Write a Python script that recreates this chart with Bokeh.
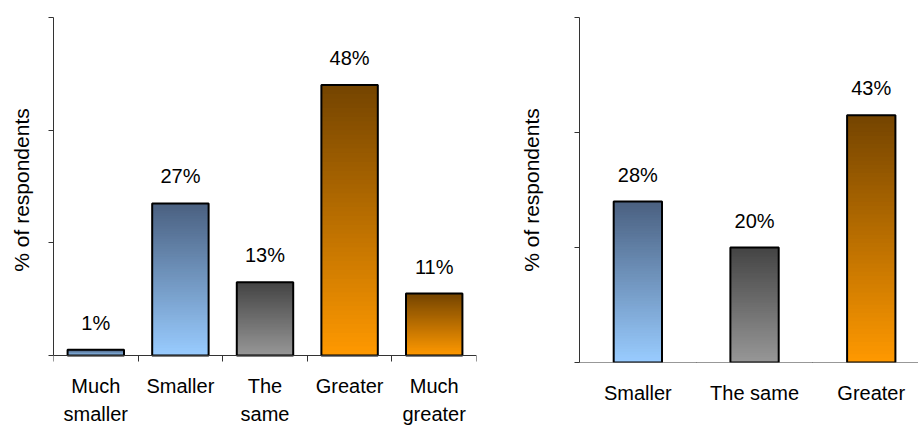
from bokeh.plotting import figure
from bokeh.layouts import row
from bokeh.models import Range1d, FixedTicker, ColumnDataSource, LinearAxis
from bokeh.embed import file_html
from bokeh.resources import INLINE
from bokeh.core.properties import value

# ---- data ----
left_categories = ["Much\nsmaller", "Smaller", "The\nsame", "Greater", "Much\ngreater"]
left_values = [1, 27, 13, 48, 11]
left_groups = ["blue", "blue", "gray", "orange", "orange"]

right_categories = ["Smaller", "The same", "Greater"]
right_values = [28, 20, 43]
right_groups = ["blue", "gray", "orange"]

y_ticks = [0, 20, 40, 60]

# gradient (bottom colour, top colour) per colour group
GRAD = {
    "blue": ("#99ccff", "#4a6080"),
    "gray": ("#979797", "#444444"),
    "orange": ("#ff9900", "#744400"),
}

FONT = "Liberation Sans"
AXIS_COLOR = "#333333"
N_SLICES = 60

H = 428
FRAME_TOP = 17
FRAME_BOTTOM = 362   # shared frame bottom of both panels


def hex2rgb(h):
    h = h.lstrip("#")
    return tuple(int(h[i:i + 2], 16) for i in (0, 2, 4))


def lerp(c0, c1, t):
    a, b = hex2rgb(c0), hex2rgb(c1)
    return "#%02x%02x%02x" % tuple(round(a[i] + (b[i] - a[i]) * t) for i in range(3))


def make_panel(categories, values, groups, width, border_left, border_right,
               zero_px, bar_width, x_end, label_standoff, cat_standoff):
    n = len(categories)
    centers = [i + 0.5 for i in range(n)]
    bounds = list(range(n + 1))

    # y range: 60 at frame top, 0 at zero_px
    ppu = (zero_px - FRAME_TOP) / 60.0
    y_lo = -(FRAME_BOTTOM - zero_px) / ppu

    p = figure(width=width, height=H, output_backend="svg", toolbar_location=None,
               x_range=Range1d(0, x_end), y_range=Range1d(y_lo, 60),
               min_border_left=border_left, min_border_right=border_right,
               min_border_top=FRAME_TOP, min_border_bottom=H - FRAME_BOTTOM,
               background_fill_color="white", border_fill_color="white")
    p.outline_line_color = None
    p.grid.visible = False

    # gradient: overlapping slices from each step up to the bar top
    l, r, b, t, c = [], [], [], [], []
    for x, v, g in zip(centers, values, groups):
        c0, c1 = GRAD[g]
        for k in range(N_SLICES):
            l.append(x - bar_width / 2)
            r.append(x + bar_width / 2)
            b.append(v * k / N_SLICES)
            t.append(v)
            c.append(lerp(c0, c1, (k + 0.5) / N_SLICES))
    p.quad(left=l, right=r, bottom=b, top=t, fill_color=c, line_color=None)

    # bar outlines
    src = ColumnDataSource(dict(x=centers, top=values,
                                lab=[f"{v}%" for v in values]))
    p.vbar(x="x", top="top", bottom=0, width=bar_width, source=src,
           fill_color=None, line_color="black", line_width=2)

    # value labels
    p.text(x="x", y="top", text="lab", source=src, text_align="center",
           text_baseline="alphabetic", y_offset=-27,
           text_font=value(FONT), text_font_size="20px", text_color="black")

    # category labels: the regular bottom axis, line and ticks hidden
    xa = p.xaxis[0]
    xa.ticker = FixedTicker(ticks=centers, minor_ticks=[])
    xa.major_label_overrides = {x: lab for x, lab in zip(centers, categories)}
    xa.axis_line_color = None
    xa.major_tick_line_color = None
    xa.minor_tick_line_color = None
    xa.major_tick_out = 0
    xa.major_tick_in = 0
    xa.major_label_standoff = cat_standoff
    xa.major_label_text_font = FONT
    xa.major_label_text_font_size = "20px"
    xa.major_label_text_line_height = 1.3
    xa.major_label_text_color = "black"

    # axis line pinned at y = 0 with category boundary ticks
    base = LinearAxis(fixed_location=0,
                      ticker=FixedTicker(ticks=[], minor_ticks=bounds),
                      major_tick_line_color=None,
                      minor_tick_out=6, minor_tick_in=0,
                      minor_tick_line_color=AXIS_COLOR,
                      axis_line_color=AXIS_COLOR)
    p.add_layout(base, "below")

    # y axis: unlabeled ticks drawn as minor ticks
    ya = p.yaxis[0]
    ya.bounds = (0, 60)
    ya.ticker = FixedTicker(ticks=[], minor_ticks=y_ticks)
    ya.minor_tick_out = 5
    ya.minor_tick_in = 0
    ya.minor_tick_line_color = AXIS_COLOR
    ya.major_tick_line_color = None
    ya.axis_line_color = AXIS_COLOR
    ya.major_label_standoff = 0
    ya.axis_label = "% of respondents"
    ya.axis_label_text_font = FONT
    ya.axis_label_text_font_size = "21px"
    ya.axis_label_text_font_style = "normal"
    ya.axis_label_text_color = "black"
    ya.axis_label_standoff = label_standoff
    return p


left = make_panel(left_categories, left_values, left_groups, width=480,
                  border_left=53, border_right=4, zero_px=355,
                  bar_width=0.667, x_end=5, label_standoff=16, cat_standoff=12)
right = make_panel(right_categories, right_values, right_groups, width=438,
                   border_left=99, border_right=0, zero_px=362,
                   bar_width=0.414, x_end=339 / 116.7, label_standoff=32,
                   cat_standoff=19)

layout = row(left, right, spacing=0)
open("out.html", "w").write(file_html(layout, INLINE))
